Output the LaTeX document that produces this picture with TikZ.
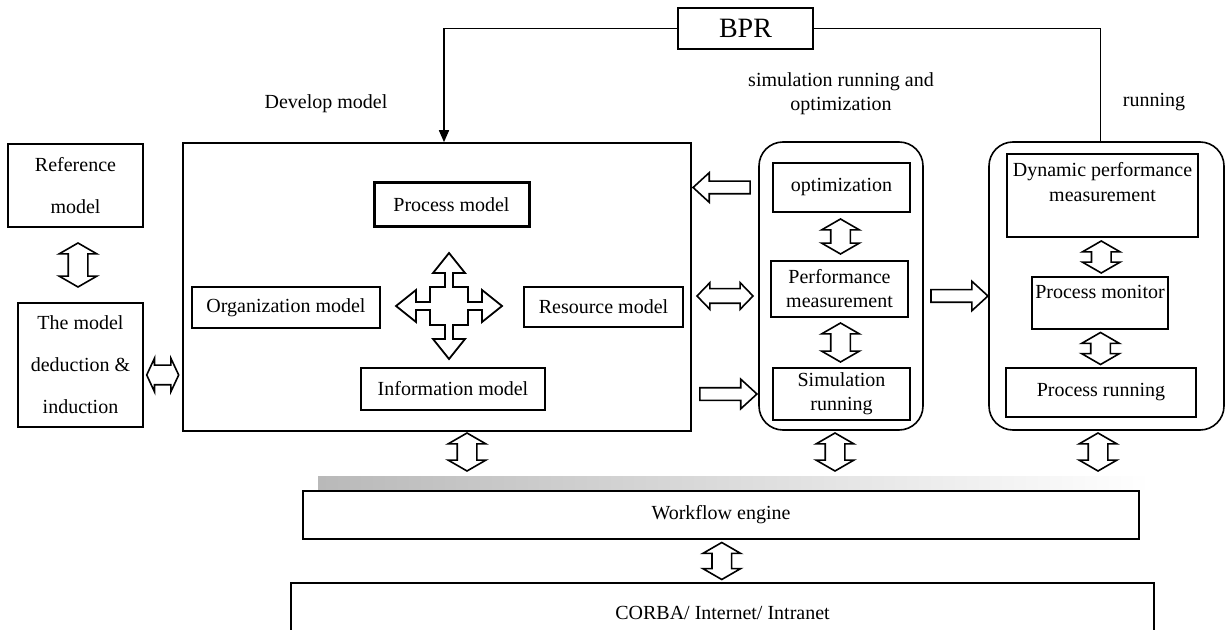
\documentclass[tikz,border=0pt]{standalone}
\usepackage{fontspec}
\setmainfont{Liberation Serif}
\usetikzlibrary{positioning}
\usetikzlibrary{calc}
\usetikzlibrary{shapes.arrows}
\usetikzlibrary{arrows.meta}

\begin{document}
\begin{tikzpicture}[
    x=0.5pt, y=-0.5pt,
    font=\fontsize{10}{12}\selectfont,
    line width=0.8pt,
    model box/.style={draw, line width=0.8pt, inner sep=2pt, align=center},
    spaced/.style={font=\fontsize{10}{21}\selectfont},
    group box/.style={draw, line width=0.8pt, rounded corners=12pt},
    updown arrow/.style={
        draw, double arrow, shape border rotate=90, line width=0.8pt,
        inner sep=4.5pt, double arrow head extend=4.5pt, double arrow tip angle=120
    },
    side arrow/.style={
        draw, single arrow, line width=0.8pt, inner sep=2.75pt,
        minimum height=28.5pt, single arrow head extend=4.25pt,
        single arrow tip angle=85
    }
  ]

  \useasboundingbox (0,0) rectangle (1225,630);
  \clip (0,0) rectangle (1225,630);

  % scanned shadow above the workflow engine
  \shade[left color=gray!55, right color=white] (318,476) rectangle (1150,489);

  \node[model box, minimum width=67.5pt, minimum height=20.5pt,
        font=\fontsize{14}{16}\selectfont] (bpr_box) at (745.5,28.5) {BPR};

  \node (develop_label) at (326,104) {Develop model};
  \node[align=center] (sim_label) at (841,94) {simulation running and\\optimization};
  \node (run_label) at (1154,102) {running};

  % left column
  \node[model box, spaced, minimum width=67.5pt, minimum height=41.5pt] (ref_box)
    at (75.5,185.5) {Reference\\model};
  \node[model box, spaced, minimum width=62.5pt, minimum height=62pt] (deduct_box)
    at (80.5,365) {The model\\deduction \&\\induction};

  % develop model
  \node[model box, minimum width=254pt, minimum height=144pt] (develop) at (437,287) {};
  \node[model box, line width=1.5pt, minimum width=77.5pt, minimum height=22pt] (process_box)
    at (451.5,205) {Process model};
  \node[model box, minimum width=94pt, minimum height=20.5pt] (org_box)
    at (286,307.5) {Organization model};
  \node[model box, minimum width=79.5pt, minimum height=20pt] (res_box)
    at (603.5,307) {Resource model};
  \node[model box, minimum width=92pt, minimum height=21pt] (info_box)
    at (453,389) {Information model};

  \coordinate (cross_c) at (449,306);
  \draw[line width=0.9pt] (cross_c)
    +(-19,-19) -- +(-4,-19) -- +(-4,-33) -- +(-16,-33) -- +(0,-53) -- +(16,-33) -- +(4,-33) -- +(4,-19)
    -- +(19,-19) -- +(19,-4) -- +(33,-4) -- +(33,-16) -- +(53,0) -- +(33,16) -- +(33,4) -- +(19,4)
    -- +(19,19) -- +(4,19) -- +(4,33) -- +(16,33) -- +(0,53) -- +(-16,33) -- +(-4,33) -- +(-4,19)
    -- +(-19,19) -- +(-19,4) -- +(-33,4) -- +(-33,16) -- +(-53,0) -- +(-33,-16) -- +(-33,-4) -- +(-19,-4)
    -- cycle;

  % simulation running and optimization
  \node[group box, minimum width=82pt, minimum height=144pt] (sim_group) at (841,286) {};
  \node[model box, minimum width=68.5pt, minimum height=24.5pt] (opt_box)
    at (841.5,187.5) {optimization};
  \node[model box, minimum width=68.5pt, minimum height=28pt] (perf_box)
    at (839.5,289) {Performance\\measurement};
  \node[model box, minimum width=68.5pt, minimum height=26pt] (simrun_box)
    at (841.5,394) {Simulation\\running};

  % running
  \node[group box, minimum width=117.5pt, minimum height=144pt] (run_group) at (1106.5,286) {};
  \node[model box, minimum width=95.5pt, minimum height=41.5pt] (dpm_box) at (1102.5,195.5) {};
  \node[align=center, font=\fontsize{10}{12.5}\selectfont, below=1pt of dpm_box.north]
    (dpm_text) {Dynamic performance\\measurement};
  \node[model box, minimum width=68pt, minimum height=26pt] (monitor_box) at (1100,303) {};
  \node[below=1pt of monitor_box.north] (monitor_text) {Process monitor};
  \node[model box, minimum width=95pt, minimum height=24.5pt] (prun_box)
    at (1101,392.5) {Process running};

  % bottom layers
  \node[model box, minimum width=418pt, minimum height=24pt] (wf_box) at (721,515) {Workflow engine};
  \node[model box, minimum width=431.5pt, minimum height=30pt] (corba_box)
    at (722.5,613) {CORBA/ Internet/ Intranet};

  % BPR loop
  \draw[-{Triangle[length=6pt,width=5pt]}] (bpr_box.west) -| ([xshift=3.5pt]develop.north);
  \draw (bpr_box.east) -| ([xshift=-3pt]run_group.north);

  % block arrows
  \node[updown arrow, minimum height=22pt] (ref_deduct)
    at ($(ref_box.south)!.5!(deduct_box.north)$) {};
  \node[draw, double arrow, line width=0.8pt, inner sep=4.5pt, minimum height=16pt,
        double arrow head extend=3.5pt, double arrow tip angle=130,
        right=1pt of deduct_box, yshift=-5pt] (deduct_develop) {};

  \coordinate (gap_a) at ($(develop.east)!.5!(sim_group.west)$);
  \coordinate (gap_b) at ($(sim_group.east)!.5!(run_group.west)$);
  \node[side arrow, shape border rotate=180] (opt_back) at (gap_a |- opt_box) {};
  \node[draw, double arrow, line width=0.8pt, inner sep=3.25pt, minimum height=28pt,
        double arrow head extend=3pt, double arrow tip angle=92,
        yshift=-3.5pt] (perf_link) at (gap_a |- perf_box) {};
  \node[side arrow] (sim_in) at (gap_a |- simrun_box) {};
  \node[side arrow, yshift=-3.5pt] (sim_out) at (gap_b |- perf_box) {};

  \node[updown arrow, minimum height=17.5pt] (opt_perf)
    at ($(opt_box.south)!.5!(perf_box.north)$) {};
  \node[updown arrow, minimum height=19.5pt] (perf_simrun)
    at ($(perf_box.south)!.5!(simrun_box.north)$) {};
  \node[updown arrow, minimum height=16pt] (dpm_monitor)
    at ($(dpm_box.south)!.5!(monitor_box.north)$) {};
  \node[updown arrow, minimum height=16pt] (monitor_prun)
    at ($(monitor_box.south)!.5!(prun_box.north)$) {};

  \node[updown arrow, minimum height=19pt] (develop_wf) at (467,452) {};
  \node[updown arrow, minimum height=19pt] (sim_wf) at (835,452) {};
  \node[updown arrow, minimum height=19pt] (run_wf) at (1098,452) {};
  \node[updown arrow, minimum height=18.5pt] (wf_corba)
    at ($(wf_box.south)!.5!(corba_box.north)$) {};

\end{tikzpicture}
\end{document}
